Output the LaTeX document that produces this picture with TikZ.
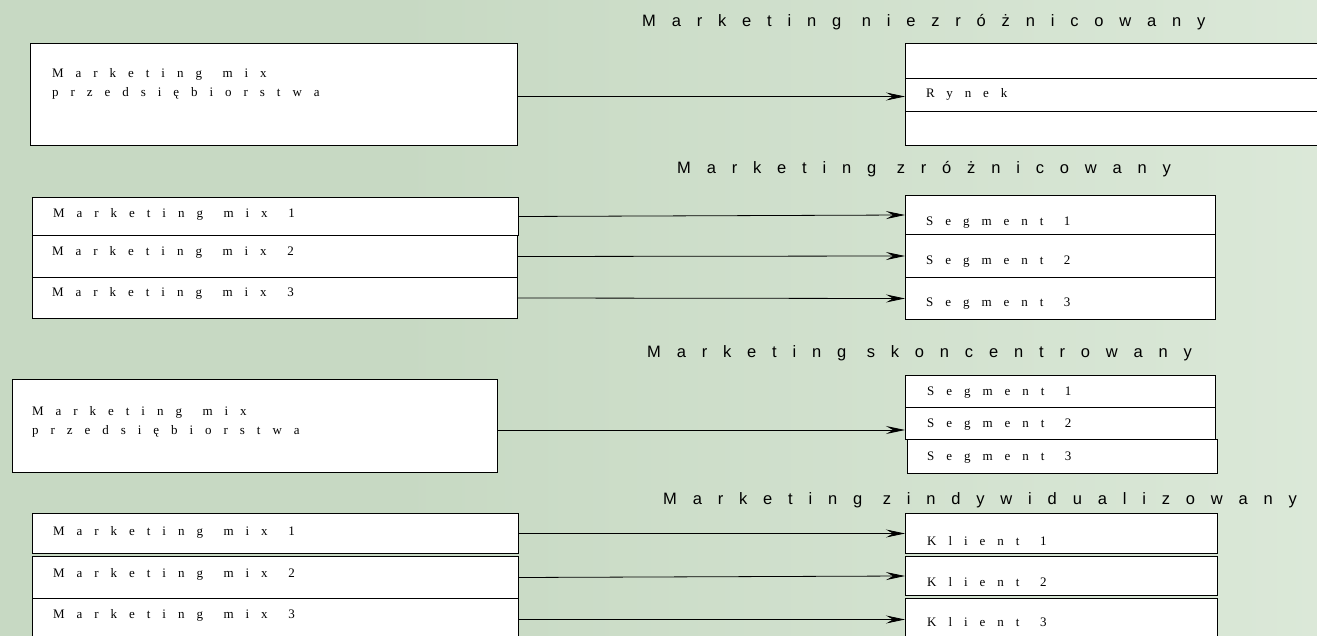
\documentclass[tikz,border=0pt]{standalone}
\usepackage{fontspec}
\setmainfont{Liberation Serif}
\newfontfamily\boxfont{Liberation Serif}[LetterSpace=92,WordSpace=1.35]
\newfontfamily\headfont{Liberation Sans}[LetterSpace=96]
\usetikzlibrary{arrows.meta,positioning}
\definecolor{bgleft}{HTML}{C7D9C3}
\definecolor{bgright}{HTML}{E9F3E7}
\pgfdeclarehorizontalshading{bgfade}{100bp}{color(0bp)=(bgleft); color(40bp)=(bgleft); color(100bp)=(bgright)}

\begin{document}
\begin{tikzpicture}[x=1pt,y=-1pt,
    box/.style={draw=black, fill=white, line width=1pt, inner sep=0pt, anchor=north west},
    txt/.style={inner sep=0pt, anchor=base west, font=\fontsize{13}{19}\selectfont\boxfont},
    head/.style={inner sep=0pt, anchor=base west, font=\fontsize{16.5}{20}\selectfont\headfont},
    link/.style={-{Stealth[length=19pt,width=8pt,inset=7pt]}, line width=0.8pt}]
  \useasboundingbox (0,0) rectangle (1317,636);
  \shade[shading=bgfade] (0,0) rectangle (1317,636);
  \clip (0,0) rectangle (1317,636);

  % Marketing niezroznicowany
  \node[head] (titleA) at (642,27) {Marketing niezróżnicowany};
  \node[box, minimum width=487pt, minimum height=102pt] (mixA) at (30,43) {};
  \node[txt, anchor=north west, align=left] (mixAtext) at (52,68) {Marketing mix\\przedsiębiorstwa};
  \node[box, minimum width=425pt, minimum height=35pt] (rynekTop) at (905,43) {};
  \node[box, minimum width=425pt, minimum height=33pt] (rynek) at (905,78) {};
  \node[box, minimum width=425pt, minimum height=34pt] (rynekBot) at (905,111) {};
  \node[txt] (rynektext) at (926,98) {Rynek};
  \draw[link] ([yshift=-2pt]mixA.east) -- ([yshift=-2pt]mixA.east -| rynek.west);

  % Marketing zroznicowany
  \node[head] (titleB) at (677,174) {Marketing zróżnicowany};
  \node[box, minimum width=486pt, minimum height=38pt] (mixB1) at (32,197) {};
  \node[box, minimum width=485pt, minimum height=42pt] (mixB2) at (32,235) {};
  \node[box, minimum width=485pt, minimum height=41pt] (mixB3) at (32,277) {};
  \node[txt] (mixB1text) at (53,218) {Marketing mix 1};
  \node[txt] (mixB2text) at (52,256) {Marketing mix 2};
  \node[txt] (mixB3text) at (52,297) {Marketing mix 3};
  \node[box, minimum width=310pt, minimum height=39pt] (segB1) at (905,195) {};
  \node[box, minimum width=310pt, minimum height=43pt] (segB2) at (905,234) {};
  \node[box, minimum width=310pt, minimum height=42pt] (segB3) at (905,277) {};
  \node[txt] (segB1text) at (926,226) {Segment 1};
  \node[txt] (segB2text) at (926,265) {Segment 2};
  \node[txt] (segB3text) at (926,307) {Segment 3};
  \draw[link] (mixB1.east) -- (segB1.west);
  \draw[link] (mixB2.east) -- (segB2.west);
  \draw[link] (mixB3.east) -- (segB3.west);

  % Marketing skoncentrowany
  \node[head] (titleC) at (647,357) {Marketing skoncentrowany};
  \node[box, minimum width=485pt, minimum height=93pt] (mixC) at (12,379) {};
  \node[txt, anchor=north west, align=left] (mixCtext) at (32,406) {Marketing mix\\przedsiębiorstwa};
  \node[box, minimum width=310pt, minimum height=32pt] (segC1) at (905,375) {};
  \node[box, minimum width=310pt, minimum height=32pt] (segC2) at (905,407) {};
  \node[box, minimum width=310pt, minimum height=34pt] (segC3) at (907,439) {};
  \node[txt] (segC1text) at (927,395) {Segment 1};
  \node[txt] (segC2text) at (927,427) {Segment 2};
  \node[txt] (segC3text) at (927,460) {Segment 3};
  \draw[link] ([yshift=-4pt]mixC.east) -- ([yshift=-4pt]mixC.east -| segC2.west);

  % Marketing zindywidualizowany
  \node[head] (titleD) at (663,504) {Marketing zindywidualizowany};
  \node[box, minimum width=486pt, minimum height=40pt] (mixD1) at (32,513) {};
  \node[box, minimum width=486pt, minimum height=42pt] (mixD2) at (32,556) {};
  \node[box, minimum width=486pt, minimum height=42pt] (mixD3) at (32,598) {};
  \node[txt] (mixD1text) at (53,535) {Marketing mix 1};
  \node[txt] (mixD2text) at (53,577) {Marketing mix 2};
  \node[txt] (mixD3text) at (53,618) {Marketing mix 3};
  \node[box, minimum width=312pt, minimum height=40pt] (kliD1) at (905,513) {};
  \node[box, minimum width=312pt, minimum height=39pt] (kliD2) at (905,556) {};
  \node[box, minimum width=312pt, minimum height=42pt] (kliD3) at (905,598) {};
  \node[txt] (kliD1text) at (927,545) {Klient 1};
  \node[txt] (kliD2text) at (927,586) {Klient 2};
  \node[txt] (kliD3text) at (927,626) {Klient 3};
  \draw[link] (mixD1.east) -- (kliD1.west);
  \draw[link] (mixD2.east) -- (kliD2.west);
  \draw[link] (mixD3.east) -- (kliD3.west);
\end{tikzpicture}
\end{document}
